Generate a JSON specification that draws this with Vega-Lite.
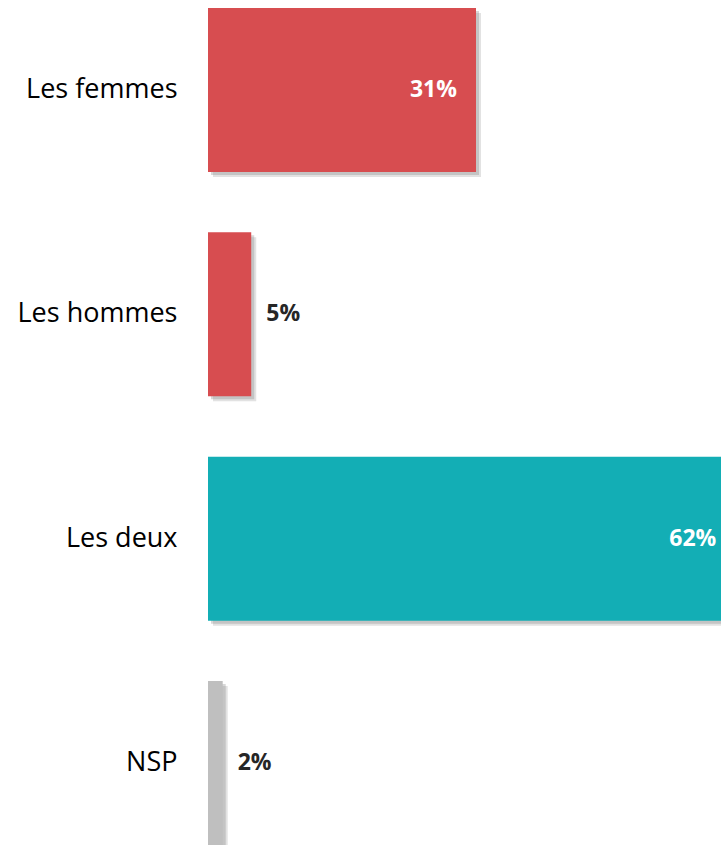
{
  "$schema": "https://vega.github.io/schema/vega-lite/v6.json",
  "width": 513,
  "height": 837,
  "autosize": {"type": "none"},
  "padding": {"left": 208, "top": 8, "right": 0, "bottom": 2},
  "background": "white",
  "config": {"view": {"stroke": null}},
  "data": {
    "values": [
      {"cat": "Les femmes", "value": 31, "label": "31%", "grp": "Les femmes"},
      {"cat": "Les hommes", "value": 5, "label": "5%", "grp": "Les hommes"},
      {"cat": "Les deux", "value": 61, "label": "62%", "grp": "Les deux"},
      {"cat": "NSP", "value": 1.7, "label": "2%", "grp": "NSP"}
    ]
  },
  "encoding": {
    "y": {
      "field": "cat",
      "type": "nominal",
      "sort": null,
      "scale": {"paddingInner": 0.269, "paddingOuter": 0},
      "axis": {
        "title": null,
        "domain": false,
        "ticks": false,
        "labelFontSize": 27,
        "labelFont": "Open Sans",
        "labelColor": "#000000",
        "labelPadding": 31
      }
    },
    "x": {
      "field": "value",
      "type": "quantitative",
      "scale": {"domain": [0, 59.34], "nice": false, "zero": true},
      "axis": null
    }
  },
  "layer": [
    {
      "mark": {"type": "bar", "color": "#8c8c8c", "opacity": 0.25, "xOffset": 5, "x2Offset": 5, "yOffset": 5, "y2Offset": 5, "clip": true}
    },
    {
      "mark": {"type": "bar", "color": "#7f7f7f", "opacity": 0.3, "xOffset": 3, "x2Offset": 3, "yOffset": 3, "y2Offset": 3, "clip": true}
    },
    {
      "mark": {"type": "bar", "clip": true},
      "encoding": {
        "color": {
          "field": "grp",
          "type": "nominal",
          "scale": {
            "domain": ["Les femmes", "Les hommes", "Les deux", "NSP"],
            "range": ["#D74D50", "#D74D50", "#13AEB5", "#BFBFBF"]
          },
          "legend": null
        }
      }
    },
    {
      "transform": [{"filter": "datum.value > 20"}],
      "mark": {"type": "text", "align": "right", "baseline": "middle", "dx": -19, "font": "Open Sans", "fontWeight": "bold", "fontSize": 23, "color": "#ffffff"},
      "encoding": {"text": {"field": "label"}}
    },
    {
      "transform": [{"filter": "datum.value <= 20"}],
      "mark": {"type": "text", "align": "left", "baseline": "middle", "dx": 15, "font": "Open Sans", "fontWeight": "bold", "fontSize": 23, "color": "#262626"},
      "encoding": {"text": {"field": "label"}}
    }
  ]
}
